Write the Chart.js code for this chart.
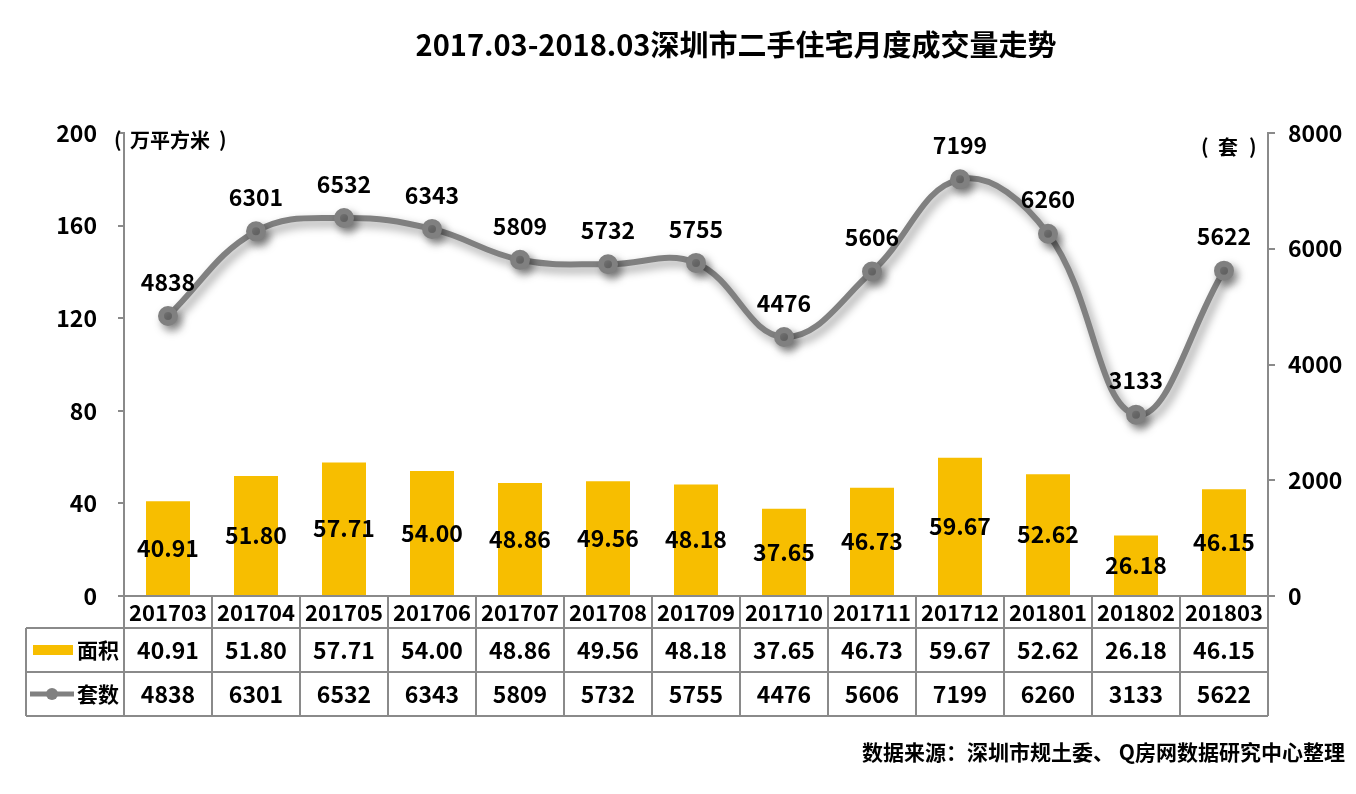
<!DOCTYPE html>
<html>
<head>
<meta charset="utf-8">
<script src="https://cdn.jsdelivr.net/npm/chart.js@4"></script>
<style>
  html, body { margin: 0; padding: 0; background: #fff; }
  #wrap { width: 1356px; height: 794px; }
</style>
</head>
<body>
<div id="wrap"><canvas id="chart" width="1356" height="794"></canvas></div>
<script>
// ===== Data =====
const months = ["201703", "201704", "201705", "201706", "201707", "201708", "201709",
  "201710", "201711", "201712", "201801", "201802", "201803"];
const areaValues = [40.91, 51.80, 57.71, 54.00, 48.86, 49.56, 48.18, 37.65, 46.73, 59.67, 52.62, 26.18, 46.15];
const unitValues = [4838, 6301, 6532, 6343, 5809, 5732, 5755, 4476, 5606, 7199, 6260, 3133, 5622];
const areaTicks = [0, 40, 80, 120, 160, 200];
const unitTicks = [0, 2000, 4000, 6000, 8000];

const titleText = "2017.03-2018.03深圳市二手住宅月度成交量走势";
const sourceText = "数据来源：深圳市规土委、 Q房网数据研究中心整理";
const areaName = "面积";
const unitName = "套数";
const areaUnit = "万平方米";
const countUnit = "套";

const FONT = '"Noto Sans CJK SC", "Noto Sans", sans-serif';
const NUM = "bold 23px " + FONT;
const BAR_COLOR = "#F7BE00";
const LINE_COLOR = "#808080";
const BORDER = "#8a8a8a";

// ===== Shadow on the line =====
const lineShadow = {
  id: "lineShadow",
  beforeDatasetDraw(chart, args) {
    if (args.meta.type !== "line") return;
    const ctx = chart.ctx;
    ctx.save();
    ctx.shadowColor = "rgba(0,0,0,0.4)";
    ctx.shadowBlur = 10;
    ctx.shadowOffsetX = 4;
    ctx.shadowOffsetY = 5;
  },
  afterDatasetDraw(chart, args) {
    if (args.meta.type !== "line") return;
    chart.ctx.restore();
  },
};

// ===== Labels, titles, data table =====
const decorations = {
  id: "decorations",
  afterDraw(chart) {
    const ctx = chart.ctx;
    const area = chart.chartArea;
    const x = chart.scales.x;
    ctx.save();
    ctx.fillStyle = "#000";
    ctx.textAlign = "center";
    ctx.textBaseline = "middle";

    // title
    ctx.font = "bold 29px " + FONT;
    ctx.fillText(titleText, 736, 45);

    // units
    ctx.font = "bold 20px " + FONT;
    ctx.textAlign = "left";
    ctx.fillText("(", 114, 139);
    ctx.fillText(areaUnit, 130, 140);
    ctx.fillText(")", 219, 139);
    ctx.fillText("(", 1201, 146);
    ctx.fillText(countUnit, 1218, 147);
    ctx.fillText(")", 1249, 146);

    // bar labels (centre of bar)
    ctx.textAlign = "center";
    ctx.font = NUM;
    const barMeta = chart.getDatasetMeta(0);
    barMeta.data.forEach((bar, i) => {
      ctx.fillText(areaValues[i].toFixed(2), bar.x, (bar.y + bar.base) / 2);
    });

    // line labels (above points)
    const lineMeta = chart.getDatasetMeta(1);
    lineMeta.data.forEach((pt, i) => {
      ctx.fillText(String(unitValues[i]), pt.x, pt.y - 34);
    });

    // ===== data table =====
    const left = area.left, right = area.right, bottom = area.bottom;
    const step = (right - left) / months.length;
    const headLeft = 26;
    const r1 = bottom + 32, r2 = r1 + 44, r3 = r2 + 44;
    ctx.strokeStyle = BORDER;
    ctx.lineWidth = 2;
    ctx.beginPath();
    ctx.moveTo(left, bottom); ctx.lineTo(right, bottom);
    ctx.moveTo(headLeft, r1); ctx.lineTo(right, r1);
    ctx.moveTo(headLeft, r2); ctx.lineTo(right, r2);
    ctx.moveTo(headLeft, r3); ctx.lineTo(right, r3);
    ctx.moveTo(headLeft, r1); ctx.lineTo(headLeft, r3);
    for (let i = 0; i <= months.length; i++) {
      const vx = left + i * step;
      ctx.moveTo(vx, bottom); ctx.lineTo(vx, r3);
    }
    ctx.stroke();

    ctx.fillStyle = "#000";
    months.forEach((m, i) => {
      const cx = x.getPixelForValue(i);
      ctx.font = "bold 22px " + FONT;
      ctx.fillText(m, cx, (bottom + r1) / 2 + 1);
      ctx.font = NUM;
      ctx.fillText(areaValues[i].toFixed(2), cx, (r1 + r2) / 2);
      ctx.fillText(String(unitValues[i]), cx, (r2 + r3) / 2);
    });

    // legend keys in header column
    ctx.fillStyle = BAR_COLOR;
    ctx.fillRect(33, (r1 + r2) / 2 - 5, 40, 10);
    ctx.strokeStyle = LINE_COLOR;
    ctx.lineWidth = 5;
    ctx.beginPath();
    ctx.moveTo(30, (r2 + r3) / 2);
    ctx.lineTo(74, (r2 + r3) / 2);
    ctx.stroke();
    ctx.fillStyle = LINE_COLOR;
    ctx.beginPath();
    ctx.arc(52, (r2 + r3) / 2, 6, 0, Math.PI * 2);
    ctx.fill();

    ctx.fillStyle = "#000";
    ctx.textAlign = "left";
    ctx.font = "bold 21px " + FONT;
    ctx.fillText(areaName, 77, (r1 + r2) / 2);
    ctx.fillText(unitName, 77, (r2 + r3) / 2);

    // source
    ctx.textAlign = "right";
    ctx.font = "bold 21px " + FONT;
    ctx.fillText(sourceText, 1345, 752);
    ctx.restore();
  },
};

// ===== Chart =====
const ctx = document.getElementById("chart").getContext("2d");
new Chart(ctx, {
  data: {
    labels: months,
    datasets: [
      {
        type: "bar",
        label: areaName,
        data: areaValues,
        yAxisID: "yArea",
        backgroundColor: BAR_COLOR,
        barPercentage: 0.5,
        categoryPercentage: 1,
        order: 1,
      },
      {
        type: "line",
        label: unitName,
        data: unitValues,
        yAxisID: "yUnit",
        borderColor: LINE_COLOR,
        backgroundColor: LINE_COLOR,
        borderWidth: 6,
        tension: 0.4,
        pointRadius: 7,
        pointBackgroundColor: LINE_COLOR,
        pointBorderColor: LINE_COLOR,
        order: 0,
      },
    ],
  },
  options: {
    responsive: false,
    animation: false,
    layout: { padding: { top: 133, bottom: 198, left: 0, right: 0 } },
    plugins: { legend: { display: false }, tooltip: { enabled: false } },
    scales: {
      x: { display: false, offset: true },
      yArea: {
        position: "left",
        min: 0,
        max: 200,
        afterBuildTicks: (s) => { s.ticks = areaTicks.map((v) => ({ value: v })); },
        afterFit: (s) => { s.width = 124; },
        grid: { drawOnChartArea: false, tickLength: 6, color: BORDER, lineWidth: 2 },
        border: { color: BORDER, width: 2 },
        ticks: { color: "#000", padding: 21, font: { family: FONT, size: 23, weight: "bold" }, callback: (v) => String(v) },
      },
      yUnit: {
        position: "right",
        min: 0,
        max: 8000,
        afterBuildTicks: (s) => { s.ticks = unitTicks.map((v) => ({ value: v })); },
        afterFit: (s) => { s.width = 88; },
        grid: { drawOnChartArea: false, tickLength: 7, color: BORDER, lineWidth: 2 },
        border: { color: BORDER, width: 2 },
        ticks: { color: "#000", padding: 13, font: { family: FONT, size: 23, weight: "bold" }, callback: (v) => String(v) },
      },
    },
  },
  plugins: [lineShadow, decorations],
});
</script>
</body>
</html>
